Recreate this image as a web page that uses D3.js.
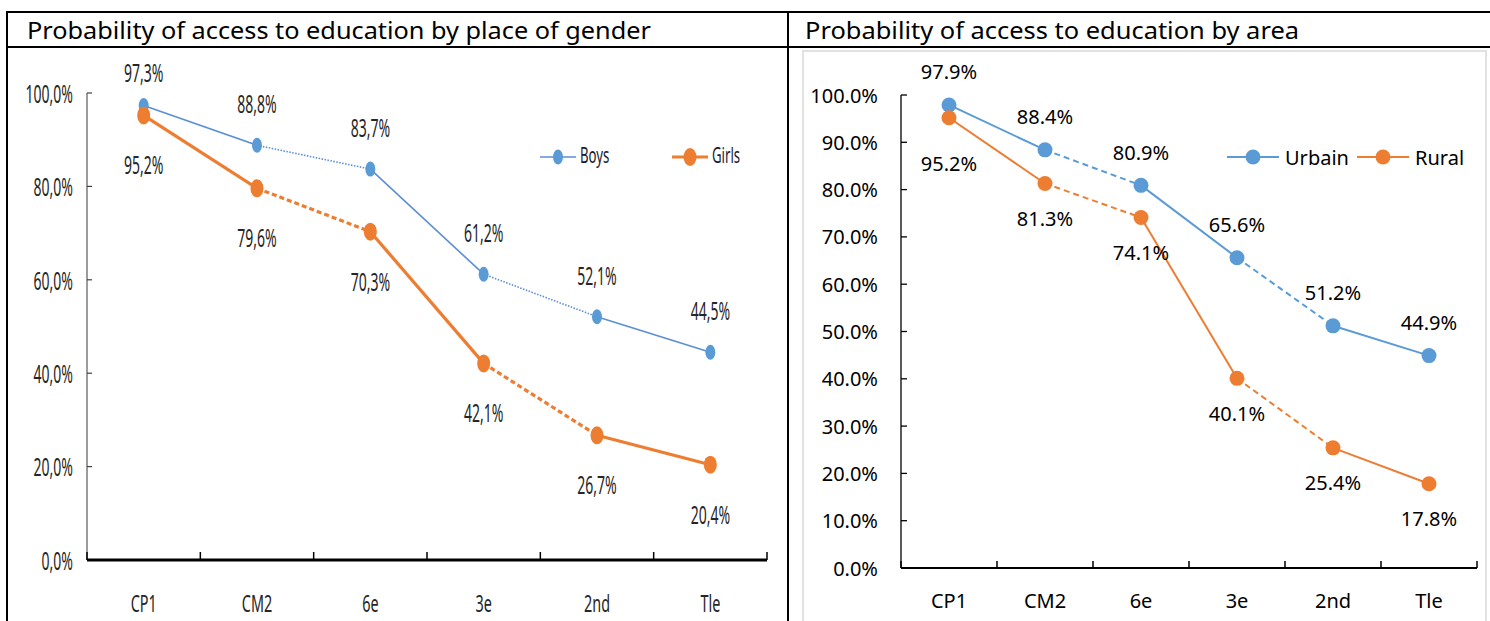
<!DOCTYPE html>
<html><head><meta charset="utf-8">
<script src="https://cdn.jsdelivr.net/npm/d3@7"></script>
<style>body{margin:0;background:#fff}svg{display:block}</style>
</head><body><svg id="c" width="1490" height="621"></svg>
<script>
// ---------- DATA ----------
const categories = ["CP1", "CM2", "6e", "3e", "2nd", "Tle"];
const boys   = [0.973, 0.888, 0.837, 0.612, 0.521, 0.445];
const girls  = [0.952, 0.796, 0.703, 0.421, 0.267, 0.204];
const urbain = [0.979, 0.884, 0.809, 0.656, 0.512, 0.449];
const rural  = [0.952, 0.813, 0.741, 0.401, 0.254, 0.178];
const leftTicks  = [0, 0.2, 0.4, 0.6, 0.8, 1.0];
const rightTicks = [0, 0.1, 0.2, 0.3, 0.4, 0.5, 0.6, 0.7, 0.8, 0.9, 1.0];
const leftTitle  = "Probability of access to education by place of gender";
const rightTitle = "Probability of access to education by area";
const leftSeriesNames  = ["Boys", "Girls"];
const rightSeriesNames = ["Urbain", "Rural"];
// segment pattern between consecutive categories
const segPattern = ["solid", "broken", "solid", "broken", "solid"];

const BLUE = "#5b9bd5", ORANGE = "#ed7d31";
const svg = d3.select("#c");
svg.append("rect").attr("width", 1490).attr("height", 621).attr("fill", "#fff");

// ---------- TABLE ----------
const tbl = svg.append("g").attr("stroke", "#000").attr("stroke-width", 2);
tbl.append("line").attr("x1", 6).attr("x2", 1490).attr("y1", 12).attr("y2", 12);
tbl.append("line").attr("x1", 6).attr("x2", 1490).attr("y1", 47).attr("y2", 47);
tbl.append("line").attr("x1", 7).attr("x2", 7).attr("y1", 11).attr("y2", 621);
tbl.append("line").attr("x1", 788).attr("x2", 788).attr("y1", 11).attr("y2", 621);

svg.append("text").attr("x", 27).attr("y", 39).text(leftTitle)
  .attr("font-family", "Noto Sans").attr("font-size", 24).attr("fill", "#000")
  .attr("textLength", 624).attr("lengthAdjust", "spacingAndGlyphs");
svg.append("text").attr("x", 805).attr("y", 39).text(rightTitle)
  .attr("font-family", "Noto Sans").attr("font-size", 24).attr("fill", "#000")
  .attr("textLength", 494).attr("lengthAdjust", "spacingAndGlyphs");

// right chart area border
svg.append("rect").attr("x", 803).attr("y", 51).attr("width", 683).attr("height", 600)
  .attr("fill", "none").attr("stroke", "#d9d9d9").attr("stroke-width", 1.5);

const pctComma = v => d3.format(".1%")(v).replace(".", ",");
const pctDot = v => d3.format(".1%")(v);

// ---------- LEFT CHART ----------
(function () {
  const SX = 0.56; // horizontal condensing of text
  const x = d3.scaleBand().domain(categories).range([87, 767]);
  const y = d3.scaleLinear().domain([0, 1]).range([560, 93]);
  const g = svg.append("g");
  const ff = "Noto Sans";
  const cx = c => x(c) + x.bandwidth() / 2;

  // y axis
  g.append("line").attr("x1", x.range()[0]).attr("x2", x.range()[0])
    .attr("y1", y(0)).attr("y2", y(1)).attr("stroke", "#595959").attr("stroke-width", 1.2);
  g.selectAll(".yt").data(leftTicks).join("line")
    .attr("x1", x.range()[0]).attr("x2", x.range()[0] + 5)
    .attr("y1", d => y(d)).attr("y2", d => y(d)).attr("stroke", "#404040").attr("stroke-width", 1.2);
  g.selectAll(".yl").data(leftTicks).join("text")
    .attr("transform", d => `translate(${x.range()[0] - 14},${y(d)}) scale(${SX},1)`)
    .attr("text-anchor", "end").attr("dominant-baseline", "central")
    .attr("font-family", ff).attr("font-size", 25).attr("fill", "#262626")
    .text(pctComma);

  // x axis
  g.append("line").attr("x1", x.range()[0]).attr("x2", x.range()[1])
    .attr("y1", y(0)).attr("y2", y(0)).attr("stroke", "#000").attr("stroke-width", 2.8);
  const bounds = categories.map(c => x(c)).concat([x.range()[1]]);
  g.selectAll(".xt").data(bounds).join("line")
    .attr("x1", d => d).attr("x2", d => d).attr("y1", y(0)).attr("y2", y(0) - 8)
    .attr("stroke", "#000").attr("stroke-width", 1.5);
  g.selectAll(".xl").data(categories).join("text")
    .attr("transform", d => `translate(${cx(d)},${603}) scale(${SX + 0.04},1)`)
    .attr("text-anchor", "middle").attr("dominant-baseline", "central")
    .attr("font-family", ff).attr("font-size", 24).attr("fill", "#262626")
    .text(d => d);

  const series = [
    { vals: boys, color: "#5b8ed6", mcolor: BLUE, w: 1.6, dash: "1.5,1.5", rx: 5, ry: 7.5, dy: -42 },
    { vals: girls, color: ORANGE, mcolor: ORANGE, w: 3.2, dash: "5,3", rx: 6.5, ry: 9, dy: 49 }
  ];
  series.forEach(s => {
    const segs = d3.range(categories.length - 1);
    g.selectAll(null).data(segs).join("line")
      .attr("x1", i => cx(categories[i])).attr("y1", i => y(s.vals[i]))
      .attr("x2", i => cx(categories[i + 1])).attr("y2", i => y(s.vals[i + 1]))
      .attr("stroke", s.color).attr("stroke-width", s.w)
      .attr("stroke-dasharray", i => segPattern[i] === "solid" ? null : s.dash);
    g.selectAll(null).data(s.vals).join("ellipse")
      .attr("cx", (d, i) => cx(categories[i])).attr("cy", d => y(d))
      .attr("rx", s.rx).attr("ry", s.ry).attr("fill", s.mcolor);
    g.selectAll(null).data(s.vals).join("text")
      .attr("transform", (d, i) => `translate(${cx(categories[i])},${Math.max(y(d) + s.dy, 72)}) scale(${SX},1)`)
      .attr("text-anchor", "middle").attr("dominant-baseline", "central")
      .attr("font-family", ff).attr("font-size", 25).attr("fill", "#262626")
      .text(pctComma);
  });

  // legend
  const legX = [540, 672];
  series.forEach((s, k) => {
    const lx = legX[k], ly = 157;
    g.append("line").attr("x1", lx).attr("x2", lx + 36).attr("y1", ly).attr("y2", ly)
      .attr("stroke", s.color).attr("stroke-width", s.w);
    g.append("ellipse").attr("cx", lx + 18).attr("cy", ly).attr("rx", s.rx).attr("ry", s.ry).attr("fill", s.mcolor);
    g.append("text").attr("transform", `translate(${lx + 40},${ly - 2}) scale(${SX + 0.04},1)`)
      .attr("dominant-baseline", "central").attr("font-family", ff).attr("font-size", 22)
      .attr("fill", "#1a1a2e").text(leftSeriesNames[k]);
  });
})();

// ---------- RIGHT CHART ----------
(function () {
  const x = d3.scaleBand().domain(categories).range([901, 1477]);
  const y = d3.scaleLinear().domain([0, 1]).range([568, 95]);
  const g = svg.append("g");
  const ff = "Noto Sans", fs = 20;
  const cx = c => x(c) + x.bandwidth() / 2;

  g.append("line").attr("x1", 901).attr("x2", 901).attr("y1", y(0)).attr("y2", y(1))
    .attr("stroke", "#000").attr("stroke-width", 1.3);
  g.selectAll(".yt").data(rightTicks).join("line")
    .attr("x1", 901).attr("x2", 907).attr("y1", d => y(d)).attr("y2", d => y(d))
    .attr("stroke", "#000").attr("stroke-width", 1.3);
  g.selectAll(".yl").data(rightTicks).join("text")
    .attr("x", 878).attr("y", d => y(d)).attr("text-anchor", "end").attr("dominant-baseline", "central")
    .attr("font-family", ff).attr("font-size", fs).attr("fill", "#000").text(pctDot);

  g.append("line").attr("x1", 901).attr("x2", 1477).attr("y1", y(0)).attr("y2", y(0))
    .attr("stroke", "#000").attr("stroke-width", 2);
  const bounds = categories.map(c => x(c)).concat([x.range()[1]]);
  g.selectAll(".xt").data(bounds).join("line")
    .attr("x1", d => d).attr("x2", d => d).attr("y1", y(0)).attr("y2", y(0) - 7)
    .attr("stroke", "#000").attr("stroke-width", 1.5);
  g.selectAll(".xl").data(categories).join("text")
    .attr("x", cx).attr("y", 600).attr("text-anchor", "middle").attr("dominant-baseline", "central")
    .attr("font-family", ff).attr("font-size", fs).attr("fill", "#000").text(d => d);

  const series = [
    { vals: urbain, color: BLUE, dy: () => -33 },
    { vals: rural, color: ORANGE, dy: i => (i === 0 ? 46 : 35) }
  ];
  series.forEach(s => {
    const segs = d3.range(categories.length - 1);
    g.selectAll(null).data(segs).join("line")
      .attr("x1", i => cx(categories[i])).attr("y1", i => y(s.vals[i]))
      .attr("x2", i => cx(categories[i + 1])).attr("y2", i => y(s.vals[i + 1]))
      .attr("stroke", s.color).attr("stroke-width", 2)
      .attr("stroke-dasharray", i => segPattern[i] === "solid" ? null : "6,4");
    g.selectAll(null).data(s.vals).join("circle")
      .attr("cx", (d, i) => cx(categories[i])).attr("cy", d => y(d)).attr("r", 7.5).attr("fill", s.color);
    g.selectAll(null).data(s.vals).join("text")
      .attr("x", (d, i) => cx(categories[i])).attr("y", (d, i) => y(d) + s.dy(i))
      .attr("text-anchor", "middle").attr("dominant-baseline", "central")
      .attr("font-family", ff).attr("font-size", fs).attr("fill", "#000").text(pctDot);
  });

  const legX = [1227, 1357];
  series.forEach((s, k) => {
    const lx = legX[k], ly = 157;
    g.append("line").attr("x1", lx).attr("x2", lx + 52).attr("y1", ly).attr("y2", ly)
      .attr("stroke", s.color).attr("stroke-width", 2);
    g.append("circle").attr("cx", lx + 26).attr("cy", ly).attr("r", 7.5).attr("fill", s.color);
    g.append("text").attr("x", lx + 58).attr("y", ly).attr("dominant-baseline", "central")
      .attr("font-family", ff).attr("font-size", fs).attr("fill", "#000").text(rightSeriesNames[k]);
  });
})();
</script></body></html>
